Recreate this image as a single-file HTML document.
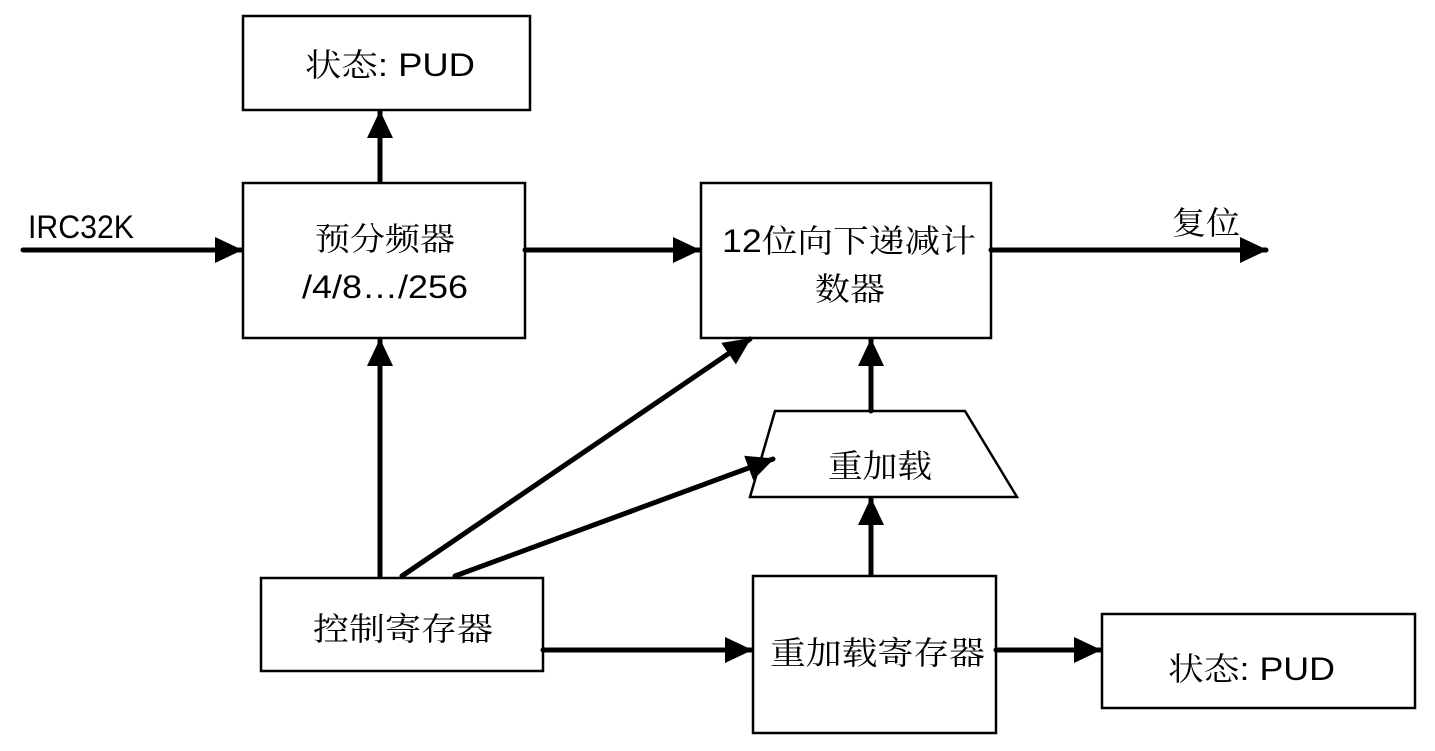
<!DOCTYPE html>
<html><head><meta charset="utf-8"><style>
html,body{margin:0;padding:0;background:#fff;}
svg{display:block;}
text{font-family:"Liberation Sans","Noto Serif CJK SC",serif;font-size:32px;fill:#000;}
.l{font-family:"Liberation Sans",sans-serif;}
</style></head><body>
<svg width="1435" height="751" viewBox="0 0 1435 751" xmlns="http://www.w3.org/2000/svg">
<defs>
<marker id="a" markerWidth="6" markerHeight="6" refX="5.2" refY="3" orient="auto" markerUnits="strokeWidth">
<path d="M0,0.4 L5.5,3 L0,5.6 Z" fill="#000"/>
</marker>
</defs>
<g fill="none" stroke="#000" stroke-width="2.5">
<rect x="243" y="16" width="287" height="94"/>
<rect x="243" y="183" width="282" height="155"/>
<rect x="701" y="183" width="290" height="155"/>
<polygon points="775,411 965,411 1017,497 750,497"/>
<rect x="261" y="578" width="282" height="93"/>
<rect x="753" y="576" width="243" height="157"/>
<rect x="1102" y="614" width="313" height="94"/>
</g>
<g stroke="#000" stroke-width="5" stroke-linecap="round" marker-end="url(#a)">
<line x1="23" y1="250" x2="241" y2="250"/>
<line x1="525" y1="250" x2="699" y2="250"/>
<line x1="991" y1="250" x2="1266" y2="250"/>
<line x1="380" y1="181" x2="380" y2="112"/>
<line x1="380" y1="576" x2="380" y2="340"/>
<line x1="402" y1="576" x2="750" y2="339"/>
<line x1="455" y1="576" x2="773" y2="459"/>
<line x1="871" y1="411" x2="871" y2="340"/>
<line x1="871" y1="574" x2="871" y2="499"/>
<line x1="543" y1="650" x2="751" y2="650"/>
<line x1="996" y1="650" x2="1100" y2="650"/>
</g>
<text x="305" y="76" textLength="170" lengthAdjust="spacingAndGlyphs">状态: PUD</text>
<text class="l" x="28" y="238" font-size="25" textLength="106" lengthAdjust="spacingAndGlyphs">IRC32K</text>
<text x="315" y="250" textLength="140" lengthAdjust="spacingAndGlyphs">预分频器</text>
<text class="l" x="302" y="298" textLength="166" lengthAdjust="spacingAndGlyphs">/4/8…/256</text>
<text x="722" y="252" textLength="254" lengthAdjust="spacingAndGlyphs">12位向下递减计</text>
<text x="815" y="300" textLength="70" lengthAdjust="spacingAndGlyphs">数器</text>
<text x="1172" y="234" textLength="68" lengthAdjust="spacingAndGlyphs">复位</text>
<text x="828" y="477" textLength="104" lengthAdjust="spacingAndGlyphs">重加载</text>
<text x="313" y="640" textLength="180" lengthAdjust="spacingAndGlyphs">控制寄存器</text>
<text x="770" y="664" textLength="215" lengthAdjust="spacingAndGlyphs">重加载寄存器</text>
<text x="1168" y="680" textLength="167" lengthAdjust="spacingAndGlyphs">状态: PUD</text>
</svg>
</body></html>
